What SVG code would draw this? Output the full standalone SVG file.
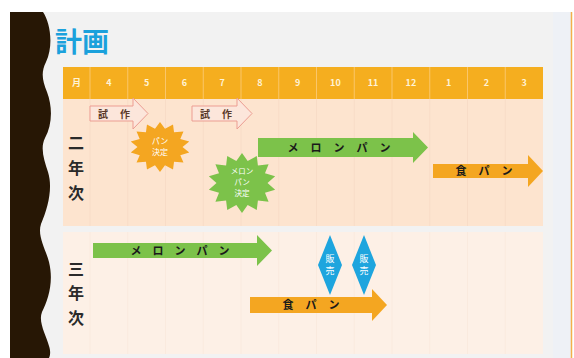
<svg xmlns="http://www.w3.org/2000/svg" width="574" height="358" viewBox="0 0 574 358">
<style>
.cj{font-family:"Noto Sans CJK JP","Noto Sans",sans-serif}
.hd{font-size:9px;font-weight:bold;fill:#fff3d6;text-anchor:middle}
.lab{font-size:16px;fill:#2a2a2a;text-anchor:middle;font-weight:bold}
.at{font-size:11px;font-weight:bold;fill:#1a1a1a;text-anchor:middle}
.st{font-size:10px;font-weight:bold;fill:#5a3a2a;text-anchor:middle}
.wt{fill:#ffffff;text-anchor:middle}
.sep{stroke:#fac66a;stroke-width:1}
.g1{stroke:#f8dcc7;stroke-width:1}
.g2{stroke:#faeade;stroke-width:1}
.green{fill:#7cc24a}
.orange{fill:#f4a621}
.trial{fill:#fce6db;stroke:#ec9d92;stroke-width:1}
.dia{fill:#1ea5de}
</style>
<defs>
<path id="burst" d="M0,-10 L1.67,-7.31 L4.34,-9.01 L4.68,-5.86 L7.82,-6.24 L6.76,-3.25 L9.75,-2.23 L7.5,0 L9.75,2.23 L6.76,3.25 L7.82,6.24 L4.68,5.86 L4.34,9.01 L1.67,7.31 L0,10 L-1.67,7.31 L-4.34,9.01 L-4.68,5.86 L-7.82,6.24 L-6.76,3.25 L-9.75,2.23 L-7.5,0 L-9.75,-2.23 L-6.76,-3.25 L-7.82,-6.24 L-4.68,-5.86 L-4.34,-9.01 L-1.67,-7.31 Z"/>
</defs>
<rect x="0" y="0" width="574" height="358" fill="#ffffff"/>
<rect x="10" y="12" width="562" height="346" fill="#f2f2f2"/>
<rect x="553" y="12" width="18" height="346" fill="#eef1f6"/>
<line x1="571.5" y1="12" x2="571.5" y2="358" stroke="#f3b04a" stroke-width="1.5"/>
<path d="M10,12 H43 C50,22 54,45 46,62 C41,72 42,80 47,92 C53,108 52,125 45,138 C40,148 44,160 48,172 C53,188 48,208 41,224 C37,236 46,250 49,262 C54,282 48,300 42,312 C38,322 46,335 49,346 C51,352 50,356 49,358 H10 Z" fill="#271705"/>
<text class="cj" x="55" y="52" font-size="27" font-weight="bold" fill="#1ba1dc">計画</text>

<g id="header">
<rect x="63" y="67" width="480" height="32" fill="#f5ae1f"/>
<g class="sep">
<line x1="90" y1="67" x2="90" y2="99"/><line x1="127.75" y1="67" x2="127.75" y2="99"/><line x1="165.5" y1="67" x2="165.5" y2="99"/><line x1="203.25" y1="67" x2="203.25" y2="99"/><line x1="241" y1="67" x2="241" y2="99"/><line x1="278.75" y1="67" x2="278.75" y2="99"/><line x1="316.5" y1="67" x2="316.5" y2="99"/><line x1="354.25" y1="67" x2="354.25" y2="99"/><line x1="392" y1="67" x2="392" y2="99"/><line x1="429.75" y1="67" x2="429.75" y2="99"/><line x1="467.5" y1="67" x2="467.5" y2="99"/><line x1="505.25" y1="67" x2="505.25" y2="99"/>
</g>
<g class="cj hd">
<text x="76.5" y="86">月</text><text x="108.9" y="86">4</text><text x="146.6" y="86">5</text><text x="184.4" y="86">6</text><text x="222.1" y="86">7</text><text x="259.9" y="86">8</text><text x="297.6" y="86">9</text><text x="335.4" y="86">10</text><text x="373.1" y="86">11</text><text x="410.9" y="86">12</text><text x="448.6" y="86">1</text><text x="486.4" y="86">2</text><text x="524.1" y="86">3</text>
</g>
</g>

<g id="row1">
<rect x="63" y="99" width="480" height="127" fill="#fde4cf"/>
<g class="g1">
<line x1="90" y1="99" x2="90" y2="226"/><line x1="127.75" y1="99" x2="127.75" y2="226"/><line x1="165.5" y1="99" x2="165.5" y2="226"/><line x1="203.25" y1="99" x2="203.25" y2="226"/><line x1="241" y1="99" x2="241" y2="226"/><line x1="278.75" y1="99" x2="278.75" y2="226"/><line x1="316.5" y1="99" x2="316.5" y2="226"/><line x1="354.25" y1="99" x2="354.25" y2="226"/><line x1="392" y1="99" x2="392" y2="226"/><line x1="429.75" y1="99" x2="429.75" y2="226"/><line x1="467.5" y1="99" x2="467.5" y2="226"/><line x1="505.25" y1="99" x2="505.25" y2="226"/>
</g>
<g class="cj lab"><text x="76" y="149">二</text><text x="76" y="174">年</text><text x="76" y="199">次</text></g>
</g>

<g id="row2">
<rect x="63" y="232" width="480" height="122" fill="#fdf0e6"/>
<g class="g2">
<line x1="90" y1="232" x2="90" y2="354"/><line x1="127.75" y1="232" x2="127.75" y2="354"/><line x1="165.5" y1="232" x2="165.5" y2="354"/><line x1="203.25" y1="232" x2="203.25" y2="354"/><line x1="241" y1="232" x2="241" y2="354"/><line x1="278.75" y1="232" x2="278.75" y2="354"/><line x1="316.5" y1="232" x2="316.5" y2="354"/><line x1="354.25" y1="232" x2="354.25" y2="354"/><line x1="392" y1="232" x2="392" y2="354"/><line x1="429.75" y1="232" x2="429.75" y2="354"/><line x1="467.5" y1="232" x2="467.5" y2="354"/><line x1="505.25" y1="232" x2="505.25" y2="354"/>
</g>
<g class="cj lab"><text x="76" y="275">三</text><text x="76" y="299">年</text><text x="76" y="324">次</text></g>
</g>

<g id="trial1">
<path class="trial" d="M90,106 H133 V98 L148,113.5 L133,129 V121 H90 Z"/>
<text class="cj st" x="103 125" y="117.5">試作</text>
</g>
<g id="trial2">
<path class="trial" d="M192,106 H237 V98 L252,113.5 L237,129 V121 H192 Z"/>
<text class="cj st" x="205 227" y="117.5">試作</text>
</g>

<g id="burst-pan">
<use href="#burst" fill="#f4a621" transform="translate(160,147) scale(3.0,2.5)"/>
<g class="cj wt" font-size="8"><text x="160" y="144">パン</text><text x="160" y="155">決定</text></g>
</g>

<g id="burst-melon">
<use href="#burst" fill="#7cc24a" transform="translate(242,183) scale(3.4,3.0)"/>
<g class="cj wt" font-size="7.5"><text x="242" y="174">メロン</text><text x="242" y="185">パン</text><text x="242" y="196">決定</text></g>
</g>

<g id="melon1">
<path class="green" d="M258,138 H413 V132 L428,147.5 L413,163 V157 H258 Z"/>
<text class="cj at" x="293 316 339 362 385" y="151.5">メロンパン</text>
</g>
<g id="shoku1">
<path class="orange" d="M433,164 H528 V155 L543,171 L528,187 V178 H433 Z"/>
<text class="cj at" x="461 484 507" y="175">食パン</text>
</g>

<g id="melon2">
<path class="green" d="M93,243 H257 V235 L272,250.5 L257,266 V258 H93 Z"/>
<text class="cj at" x="136 158 180 202 224" y="254.5">メロンパン</text>
</g>
<g id="shoku2">
<path class="orange" d="M250,297 H372 V289 L387,305 L372,321 V313 H250 Z"/>
<text class="cj at" x="288 311 334" y="309">食パン</text>
</g>

<g id="sale1">
<path class="dia" d="M330,235 L342,265 L330,295 L318,265 Z"/>
<g class="cj wt" font-size="9"><text x="330" y="262">販</text><text x="330" y="274">売</text></g>
</g>
<g id="sale2">
<path class="dia" d="M364,235 L376,265 L364,295 L352,265 Z"/>
<g class="cj wt" font-size="9"><text x="364" y="262">販</text><text x="364" y="274">売</text></g>
</g>
<g id="connectors"></g>
</svg>
